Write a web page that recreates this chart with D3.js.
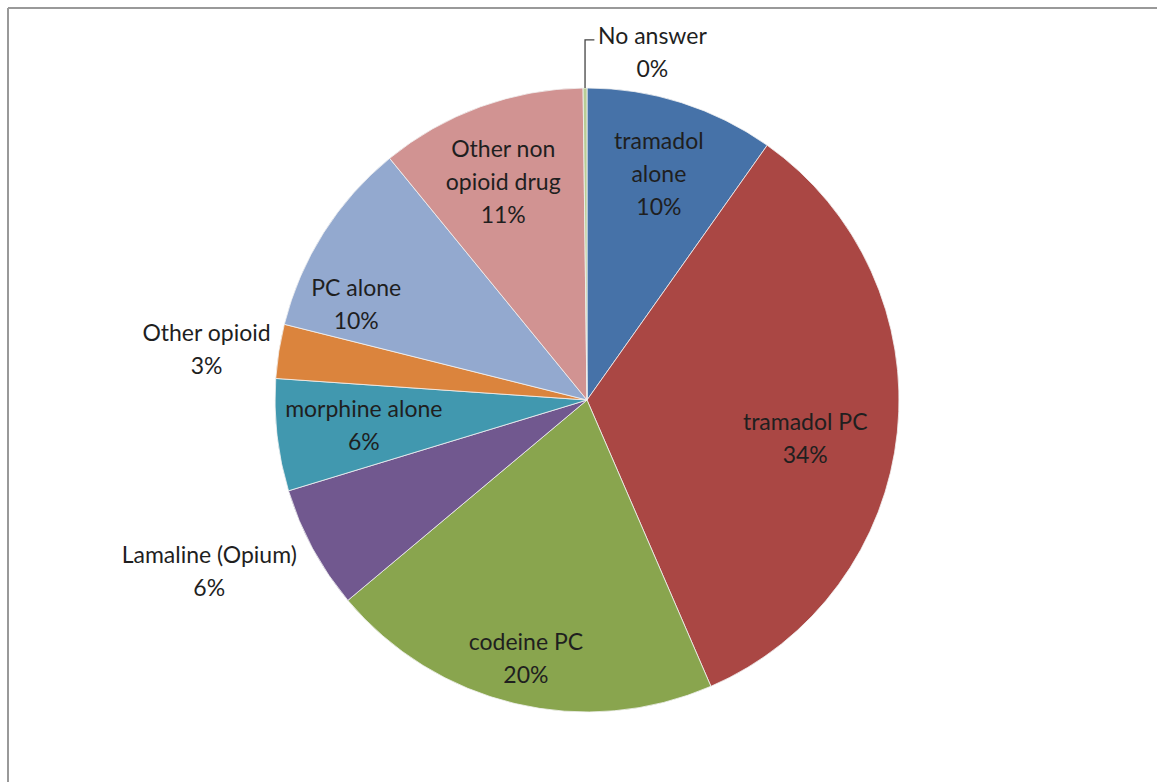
<!DOCTYPE html>
<html>
<head>
<meta charset="utf-8">
<script src="https://cdn.jsdelivr.net/npm/d3@7"></script>
<style>
  body { margin: 0; background: #fff; }
  svg text { font-family: Lato, "Open Sans", sans-serif; }
</style>
</head>
<body>
<div id="chart"></div>
<script>
// Slice data, clockwise from 12 o'clock
const categories = ["tramadol alone", "tramadol PC", "codeine PC", "Lamaline (Opium)",
  "morphine alone", "Other opioid", "PC alone", "Other non opioid drug", "No answer"];
const values = [9.8, 33.7, 20.4, 6.4, 5.8, 2.8, 10.2, 10.7, 0.2];
const labelLines = [
  ["tramadol", "alone"], ["tramadol PC"], ["codeine PC"], ["Lamaline (Opium)"],
  ["morphine alone"], ["Other opioid"], ["PC alone"], ["Other non", "opioid drug"], ["No answer"]
];
const colors = ["#4672a8", "#aa4744", "#89a54e", "#71588f", "#4198af",
  "#db843d", "#93a9cf", "#d19392", "#b9cd96"];

// label placement: [radius factor, angle tweak in degrees]
const labelPlace = [[0.76, 0], [0.71, 4], [0.85, 0], [1.33, 4], [0.72, 0],
  [1.23, -1.5], [0.8, -10], [0.75, -1], [1.135, 11]];

const width = 1157, height = 782;
const cx = 587, cy = 400, R = 312;
const lineH = 33;

const svg = d3.select("#chart").append("svg")
  .attr("width", width)
  .attr("height", height);

// frame lines (top and left only)
svg.append("line").attr("x1", 8).attr("x2", width).attr("y1", 8).attr("y2", 8)
  .attr("stroke", "#999").attr("stroke-width", 2);
svg.append("line").attr("x1", 8).attr("x2", 8).attr("y1", 8).attr("y2", height)
  .attr("stroke", "#999").attr("stroke-width", 2);

const data = categories.map((c, i) => ({name: c, value: values[i], lines: labelLines[i], i: i}));
const total = d3.sum(values);

const pie = d3.pie().sort(null).value(d => d.value);
const arcs = pie(data);
const arc = d3.arc().innerRadius(0).outerRadius(R);

const g = svg.append("g").attr("transform", `translate(${cx},${cy})`);

g.selectAll("path.slice")
  .data(arcs)
  .join("path")
  .attr("class", "slice")
  .attr("d", arc)
  .attr("fill", d => colors[d.data.i])
  .attr("stroke", "#f2f2f2")
  .attr("stroke-width", 0.8);

function labelPoint(d) {
  const p = labelPlace[d.data.i];
  const a = (d.startAngle + d.endAngle) / 2 + p[1] * Math.PI / 180;
  const r = R * p[0];
  return [r * Math.sin(a), -r * Math.cos(a)];
}

// leader for the tiny "No answer" slice
const na = arcs[arcs.length - 1];
const naMid = (na.startAngle + na.endAngle) / 2;
const naStart = [R * Math.sin(naMid), -R * Math.cos(naMid)];
const naLab = labelPoint(na);
g.append("path")
  .attr("d", `M${naStart[0]},${naStart[1]} V${naLab[1] - 12} H${naLab[0] - 58}`)
  .attr("fill", "none")
  .attr("stroke", "#444")
  .attr("stroke-width", 1.3);

const labels = g.selectAll("g.label")
  .data(arcs)
  .join("g")
  .attr("class", "label")
  .attr("transform", d => {
    const [x, y] = labelPoint(d);
    return `translate(${x},${y})`;
  });

labels.each(function(d) {
  const lines = d.data.lines.concat([Math.round(d.data.value / total * 100) + "%"]);
  const n = lines.length;
  d3.select(this).selectAll("text")
    .data(lines)
    .join("text")
    .attr("text-anchor", "middle")
    .attr("dy", "0.35em")
    .attr("y", (t, k) => (k - (n - 1) / 2) * lineH)
    .attr("font-size", 23)
    .attr("fill", "#1f1f1f")
    .text(t => t);
});
</script>
</body>
</html>
